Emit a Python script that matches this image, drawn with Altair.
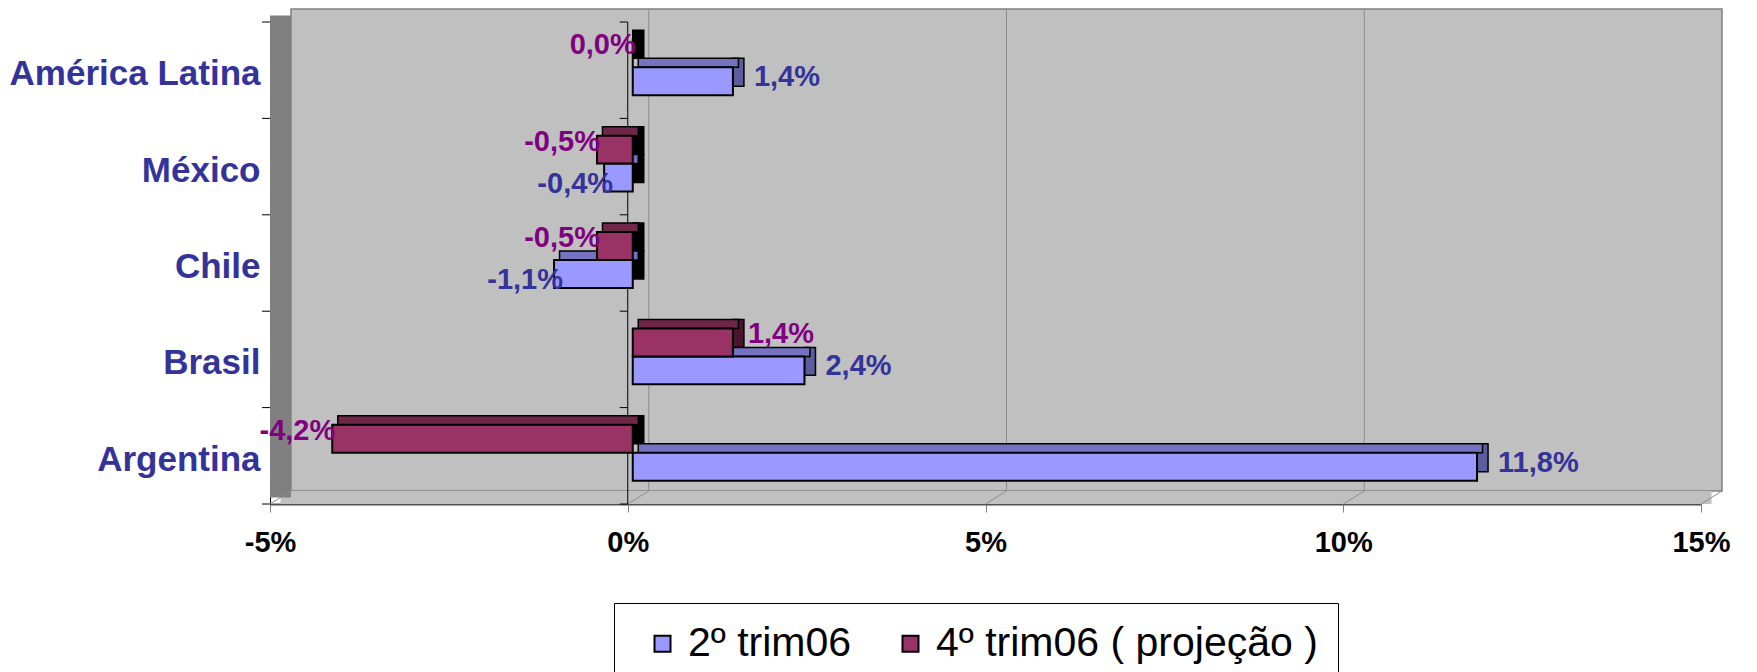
import altair as alt
import pandas as pd

# ---- data ----
paises = ["América Latina", "México", "Chile", "Brasil", "Argentina"]
serie_2tri = [1.4, -0.4, -1.1, 2.4, 11.8]
serie_4tri = [0.0, -0.5, -0.5, 1.4, -4.2]
series = ["2º trim06", "4º trim06 ( projeção )"]
x_ticks = [-5, 0, 5, 10, 15]
grid_vals = [0, 5, 10]

# ---- styles ----
FONT = "Liberation Sans"
BLUE, PURPLE = "#9999FF", "#993366"
BLUE_TOP, PURPLE_TOP = "#7373C2", "#6E2749"
BLUE_SIDE, PURPLE_SIDE = "#5C5C9E", "#4A1430"
LBL_BLUE, LBL_PURPLE = "#333399", "#800080"
W, H = 1431, 482
DX, DY = 21, -13      # depth of the 3D box
BDX, BDY = 11, 9      # depth of the 3D bars
FX = 5                # bars sit slightly behind the front plane
SHIFT = -3
PAD_IN, PAD_OUT = 0.42, 0.21
STEP = H / (len(paises) - PAD_IN + 2 * PAD_OUT)
BW = STEP * (1 - PAD_IN)
TICK_SHIFT = -STEP * PAD_IN / 2   # from band start to band boundary

rows = []
for p, a, b in zip(paises, serie_2tri, serie_4tri):
    rows.append({"pais": p, "serie": series[0], "idx": 0, "valor": a})
    rows.append({"pais": p, "serie": series[1], "idx": 1, "valor": b})
df = pd.DataFrame(rows)
df["rotulo"] = df["valor"].map(lambda v: f"{v:.1f}".replace(".", ",") + "%")

one = pd.DataFrame({"k": [0]})
grid_df = pd.DataFrame({"v": grid_vals})
tick_df = pd.DataFrame({"v": x_ticks})
cat_df = pd.DataFrame({"pais": paises})

xscale = alt.Scale(domain=[x_ticks[0], x_ticks[-1]], nice=False, zero=False)
yscale = alt.Scale(domain=paises, paddingInner=PAD_IN, paddingOuter=PAD_OUT)
order = [series[1], series[0]]


def yoff(shift):
    return alt.YOffset("serie:N", sort=order, scale=alt.Scale(
        domain=order, range=[shift, BW + shift], paddingInner=0, paddingOuter=0))


def yoff_top(shift):
    p = 1 - 2 * BDY / BW
    span = (BW / 2) * (2 - p)
    return alt.YOffset("serie:N", sort=order, scale=alt.Scale(
        domain=order, range=[shift - BDY, shift - BDY + span], paddingInner=p,
        paddingOuter=0))


def yoff_lbl(shift):
    return alt.YOffset("serie:N", sort=order, scale=alt.Scale(
        type="point", domain=order, range=[shift + BW / 4, shift + 3 * BW / 4], padding=0))


x_axis = alt.Axis(
    values=x_ticks, labelExpr="datum.value + '%'", title=None, grid=False,
    labelFont=FONT, labelFontSize=29, labelFontWeight="bold", labelColor="black",
    labelFlush=False, tickColor="#808080", tickSize=8, domainColor="#505050",
    domainWidth=2, labelPadding=16)

y_axis = alt.Axis(
    title=None, labelFont=FONT, labelFontSize=35, labelFontWeight="bold",
    labelColor=LBL_BLUE, ticks=False, domainColor="black", labelPadding=10,
    labelLimit=400, labelOffset=4)

# ---- 3D box decoration ----
back_wall = alt.Chart(one).mark_rect(
    fill="#C0C0C0", stroke="#808080", strokeWidth=1.5,
    xOffset=DX, x2Offset=DX, yOffset=DY, y2Offset=DY
).encode(
    x=alt.XDatum(x_ticks[0], scale=xscale, axis=x_axis), x2=alt.X2Datum(x_ticks[-1]),
    y=alt.value(0), y2=alt.value(H)
)
floor = alt.Chart(one).mark_rect(
    fill="#C0C0C0", xOffset=DX / 2, x2Offset=DX / 2, yOffset=DY, y2Offset=0
).encode(
    x=alt.XDatum(x_ticks[0], scale=xscale, axis=x_axis), x2=alt.X2Datum(x_ticks[-1]),
    y=alt.value(H), y2=alt.value(H)
)
left_wall = alt.Chart(one).mark_rect(
    fill="#808080", x2Offset=DX, yOffset=DY / 2, y2Offset=DY / 2
).encode(
    x=alt.XDatum(x_ticks[0], scale=xscale, axis=x_axis), x2=alt.X2Datum(x_ticks[0]),
    y=alt.value(0), y2=alt.value(H)
)
grid = alt.Chart(grid_df).mark_rule(
    color="#8C8C8C", strokeWidth=1, xOffset=DX, yOffset=DY, y2Offset=DY
).encode(x=alt.X("v:Q", scale=xscale, axis=x_axis), y=alt.value(0), y2=alt.value(H))
floor_diag = alt.Chart(tick_df).mark_rule(
    color="#8C8C8C", strokeWidth=1, x2Offset=DX, y2Offset=DY
).encode(x=alt.X("v:Q", scale=xscale, axis=x_axis), x2="v:Q",
         y=alt.value(H), y2=alt.value(H))
zero_line = alt.Chart(one).mark_rule(color="black", strokeWidth=1).encode(
    x=alt.XDatum(0, scale=xscale, axis=x_axis), y=alt.value(0), y2=alt.value(H)
)


# category tick marks at the band boundaries (left edge and zero line)
def cat_ticks(xv):
    t = alt.Chart(cat_df).mark_rule(
        color="black", strokeWidth=1, x2Offset=-8, yOffset=TICK_SHIFT
    ).encode(
        x=alt.XDatum(xv, scale=xscale, axis=x_axis), x2=alt.X2Datum(xv),
        y=alt.Y("pais:N", sort=paises, scale=yscale, axis=y_axis, bandPosition=0))
    b = alt.Chart(one).mark_rule(color="black", strokeWidth=1, x2Offset=-8).encode(
        x=alt.XDatum(xv, scale=xscale, axis=x_axis), x2=alt.X2Datum(xv),
        y=alt.value(H))
    return [t, b]


# ---- bars ----
y_enc = alt.Y("pais:N", sort=paises, scale=yscale, axis=y_axis)
x_enc = alt.X("valor:Q", scale=xscale, axis=x_axis)

side_expr = (f"datum.valor > 0 ? (datum.idx == 0 ? '{BLUE_SIDE}' : '{PURPLE_SIDE}')"
             f" : 'black'")

# side face at the right-hand end of each bar
bars_side = alt.Chart(df).transform_calculate(
    fim="max(datum.valor, 0)", cor=side_expr
).mark_bar(
    stroke="black", strokeWidth=1.5, xOffset=FX, x2Offset=FX + BDX
).encode(
    x=alt.X("fim:Q", scale=xscale, axis=x_axis), x2="fim:Q",
    y=y_enc, yOffset=yoff(SHIFT - BDY),
    fill=alt.Fill("cor:N", scale=None)
)
# top face
bars_top = alt.Chart(df).mark_bar(
    stroke="black", strokeWidth=1.5, xOffset=FX + BDX / 2
).encode(
    x=x_enc, y=y_enc, yOffset=yoff_top(SHIFT),
    fill=alt.condition("datum.idx == 0", alt.value(BLUE_TOP), alt.value(PURPLE_TOP))
)
# front face
bars_front = alt.Chart(df).mark_bar(
    stroke="black", strokeWidth=2, xOffset=FX
).encode(
    x=x_enc, y=y_enc, yOffset=yoff(SHIFT),
    fill=alt.Color("serie:N", scale=alt.Scale(domain=series, range=[BLUE, PURPLE]),
                   legend=alt.Legend(
                       title=None, orient="none", legendX=344, legendY=581,
                       direction="horizontal", fillColor="white", strokeColor="black",
                       padding=20, symbolType="square", symbolSize=256,
                       symbolStrokeColor="black", symbolStrokeWidth=2, symbolOffset=8,
                       labelFont=FONT, labelFontSize=41, labelColor="black",
                       labelOffset=5, columnPadding=30, labelLimit=1000))
)


def labels(cond, color, align, dx, dy):
    return alt.Chart(df).transform_filter(cond).mark_text(
        font=FONT, fontSize=29, fontWeight="bold", color=color,
        align=align, baseline="middle", dx=dx, dy=dy
    ).encode(x=x_enc, y=y_enc, yOffset=yoff_lbl(SHIFT), text="rotulo:N")


lab_bp = labels("datum.idx == 0 && datum.valor > 0", LBL_BLUE, "left", 26, -4)
lab_bn = labels("datum.idx == 0 && datum.valor <= 0", LBL_BLUE, "right", 14, 6)
lab_pp = labels("datum.idx == 1 && datum.valor > 0", LBL_PURPLE, "left", 20, -8)
lab_pn = labels("datum.idx == 1 && datum.valor <= 0", LBL_PURPLE, "right", 8, -8)

chart = alt.layer(
    back_wall, floor, left_wall, grid, floor_diag, zero_line,
    *cat_ticks(x_ticks[0]), *cat_ticks(0),
    bars_side, bars_top, bars_front, lab_bp, lab_bn, lab_pp, lab_pn
).resolve_scale(yOffset="independent").properties(
    width=W, height=H,
    autosize=alt.AutoSizeParams(type="none"),
    padding={"left": 262, "top": 14, "right": 40, "bottom": 168},
    background="white"
).configure_view(stroke=None)

chart.save("out.html", embed_options={"renderer": "svg", "actions": False})
